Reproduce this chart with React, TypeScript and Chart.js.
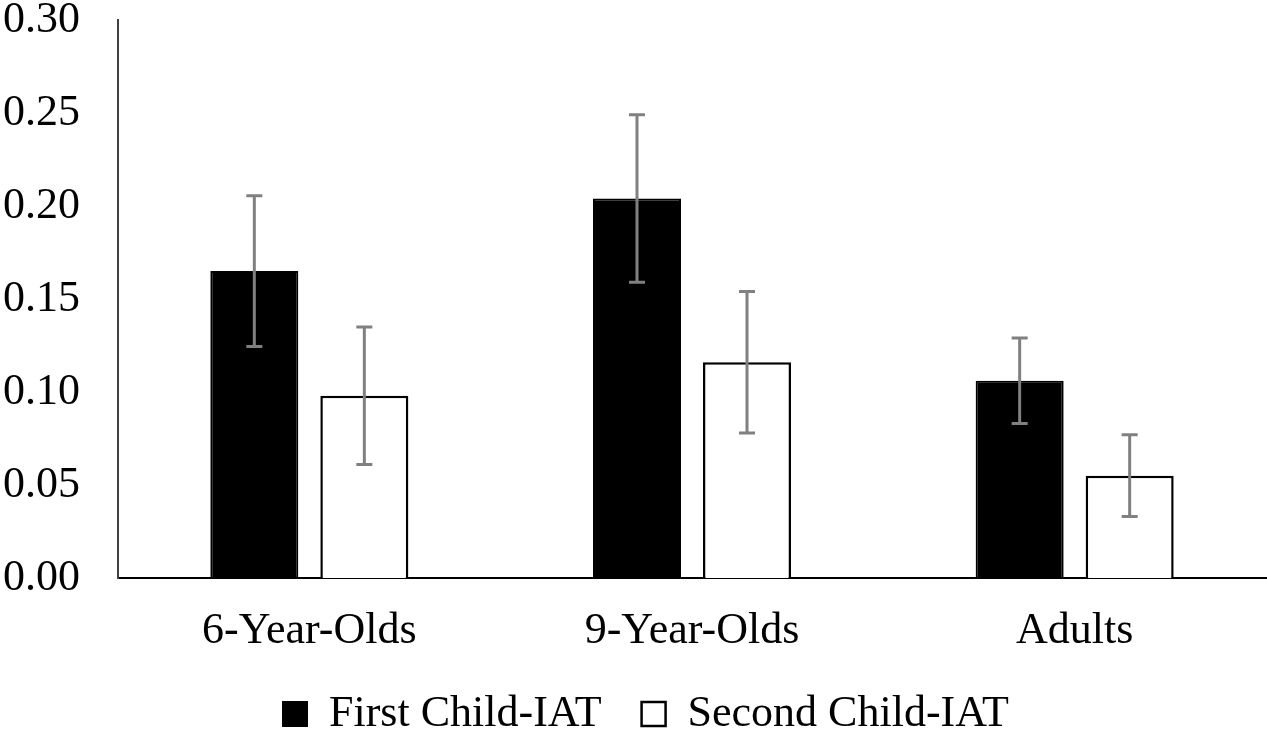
import * as React from 'react';
import {useRef, useEffect} from 'react';
import {Chart, registerables} from 'chart.js';

Chart.register(...registerables);

const groups = ['6-Year-Olds', '9-Year-Olds', 'Adults'];
const firstIat = [0.165, 0.204, 0.106];
const firstErr = [0.0405, 0.045, 0.023];
const secondIat = [0.098, 0.116, 0.055];
const secondErr = [0.037, 0.038, 0.022];
const yTicks = [0, 0.05, 0.1, 0.15, 0.2, 0.25, 0.3];

const serif = '"Liberation Serif", "Times New Roman", serif';
const fontSize = 44;

// draws the grey whiskers on top of every bar
const errorBars = {
  id: 'errorBars',
  afterDatasetsDraw(chart: any) {
    const ctx = chart.ctx;
    const y = chart.scales.y;
    chart.data.datasets.forEach((ds: any, i: number) => {
      const meta = chart.getDatasetMeta(i);
      meta.data.forEach((bar: any, j: number) => {
        const v = ds.data[j];
        const e = ds.errors[j];
        const top = y.getPixelForValue(v + e);
        const bottom = y.getPixelForValue(v - e);
        const cap = 8;
        ctx.save();
        ctx.strokeStyle = '#808080';
        ctx.lineWidth = 3;
        ctx.beginPath();
        ctx.moveTo(bar.x, top);
        ctx.lineTo(bar.x, bottom);
        ctx.moveTo(bar.x - cap, top);
        ctx.lineTo(bar.x + cap, top);
        ctx.moveTo(bar.x - cap, bottom);
        ctx.lineTo(bar.x + cap, bottom);
        ctx.stroke();
        ctx.restore();
      });
    });
  },
};

// pins the legend height and nudges it right, like the original
const legendBox = {
  id: 'legendBox',
  afterInit(chart: any) {
    const legend = chart.legend;
    if (!legend) return;
    const fit = legend.fit;
    legend.fit = function () {
      fit.call(this);
      this.height = 80;
    };
  },
  afterLayout(chart: any) {
    if (chart.legend) chart.legend.left += 26;
  },
};

function IatChart(): JSX.Element {
  const canvasRef = useRef<HTMLCanvasElement>(null);

  useEffect(() => {
    if (!canvasRef.current) return;
    const chart = new Chart(canvasRef.current, {
      type: 'bar',
      data: {
        labels: groups,
        datasets: [
          {
            label: 'First Child-IAT',
            data: firstIat,
            // @ts-ignore
            errors: firstErr,
            backgroundColor: '#000000',
            borderColor: '#000000',
            borderWidth: 2,
            categoryPercentage: 0.575,
            barPercentage: 0.8,
          },
          {
            label: 'Second Child-IAT',
            data: secondIat,
            // @ts-ignore
            errors: secondErr,
            backgroundColor: '#ffffff',
            borderColor: '#000000',
            borderWidth: 2.5,
            categoryPercentage: 0.575,
            barPercentage: 0.8,
          },
        ],
      },
      options: {
        animation: false,
        responsive: true,
        maintainAspectRatio: false,
        layout: {padding: {left: 0, right: 1, top: 0, bottom: 0}},
        plugins: {
          tooltip: {enabled: false},
          legend: {
            position: 'bottom',
            labels: {
              color: '#000000',
              font: {family: serif, size: fontSize, lineHeight: 1},
              boxWidth: 24,
              boxHeight: 24,
              padding: 40,
            },
          },
        },
        scales: {
          x: {
            afterFit: (scale: any) => {
              scale.height = 74;
            },
            grid: {display: false, drawTicks: false},
            border: {display: true, color: '#000000', width: 2},
            ticks: {
              color: '#000000',
              font: {family: serif, size: fontSize, lineHeight: 1},
              padding: 31,
            },
          },
          y: {
            min: 0,
            max: 0.3,
            afterBuildTicks: (scale: any) => {
              scale.ticks = yTicks.map((v) => ({value: v}));
            },
            afterFit: (scale: any) => {
              scale.width = 118;
              scale.paddingTop = 20;
              scale.paddingBottom = 0;
            },
            grid: {display: false, drawTicks: false},
            border: {display: true, color: '#404040', width: 2},
            ticks: {
              color: '#000000',
              font: {family: serif, size: fontSize, lineHeight: 1},
              padding: 38,
              callback: (v: any) => Number(v).toFixed(2),
            },
          },
        },
      },
      plugins: [errorBars, legendBox],
    });
    return () => {
      chart.destroy();
    };
  }, []);

  return (
    <div style={{position: 'fixed', left: 0, top: 0, width: 1267, height: 732, background: '#ffffff'}}>
      <canvas ref={canvasRef} />
    </div>
  );
}

export default function App(): JSX.Element {
  return <IatChart />;
}
